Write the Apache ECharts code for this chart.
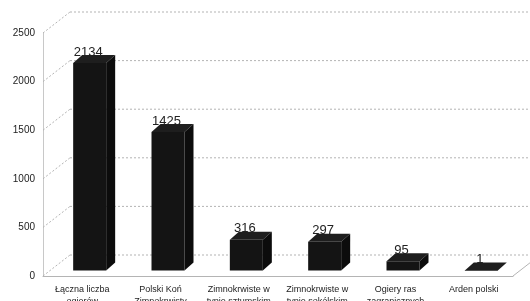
<!DOCTYPE html>
<html>
<head>
<meta charset="utf-8">
<script src="https://cdn.jsdelivr.net/npm/echarts@6/dist/echarts.min.js"></script>
<style>
html,body{margin:0;padding:0;background:#fff;}
#chart{width:530px;height:301px;}
</style>
</head>
<body>
<div id="chart"></div>
<script>
var categories = ['Łączna liczba\nogierów', 'Polski Koń\nZimnokrwisty', 'Zimnokrwiste w\ntypie sztumskim',
    'Zimnokrwiste w\ntypie sokólskim', 'Ogiery ras\nzagranicznych', 'Arden polski'];
var values = [2134, 1425, 316, 297, 95, 1];
var yTicks = [0, 500, 1000, 1500, 2000, 2500];

// depth of the fake 3d box (px)
var WALL_DX = 27, WALL_DY = -21;
var BAR_W = 33, BAR_OX = 7.5, BAR_OY = -5.5, BAR_DX = 9, BAR_DY = -8;

var chart = echarts.init(document.getElementById('chart'));

function renderWall(params, api) {
    var cs = params.coordSys;
    var p = api.coord([0, api.value(1)]);
    var y = p[1];
    var style = {stroke: '#b4b4b4', lineWidth: 1, lineDash: [2, 2]};
    var children = [
        {type: 'line', shape: {x1: cs.x, y1: y, x2: cs.x + WALL_DX, y2: y + WALL_DY}, style: style},
        {type: 'line', shape: {x1: cs.x + WALL_DX, y1: y + WALL_DY, x2: cs.x + cs.width + WALL_DX, y2: y + WALL_DY}, style: style}
    ];
    if (api.value(1) === 0) {
        children.push({type: 'line', shape: {x1: cs.x + cs.width, y1: y, x2: cs.x + cs.width + WALL_DX, y2: y + WALL_DY},
            style: {stroke: '#b4b4b4', lineWidth: 1}});
    }
    return {type: 'group', children: children};
}

function renderBar(params, api) {
    var i = api.value(0), v = api.value(1);
    var base = api.coord([i, 0]);
    var top = api.coord([i, v]);
    var x0 = base[0] - BAR_W / 2 + BAR_OX, x1 = x0 + BAR_W;
    var yb = base[1] + BAR_OY, yt = top[1] + BAR_OY;
    return {
        type: 'group',
        children: [
            {type: 'rect', shape: {x: x0, y: yt, width: BAR_W, height: Math.max(yb - yt, 0.5)}, style: {fill: '#141414'}},
            {type: 'polygon', shape: {points: [[x0, yt], [x1, yt], [x1 + BAR_DX, yt + BAR_DY], [x0 + BAR_DX, yt + BAR_DY]]},
                style: {fill: '#1e1e1e'}},
            {type: 'polygon', shape: {points: [[x1, yt], [x1 + BAR_DX, yt + BAR_DY], [x1 + BAR_DX, yb + BAR_DY], [x1, yb]]},
                style: {fill: '#0c0c0c'}},
            {type: 'text', x: x0 + 15, y: yt - 11,
                style: {text: String(v), fill: '#222', font: '13px Arial, "Liberation Sans"', align: 'center', verticalAlign: 'middle'}}
        ]
    };
}

chart.setOption({
    animation: false,
    backgroundColor: '#fff',
    grid: {left: 43, right: 17, top: 33, bottom: 25, containLabel: false, outerBoundsMode: 'none'},
    xAxis: {
        type: 'category',
        data: categories,
        axisLine: {lineStyle: {color: '#b4b4b4'}},
        axisTick: {show: false},
        axisLabel: {interval: 0, margin: 8, color: '#222', fontSize: 9, lineHeight: 12, fontFamily: 'Arial'}
    },
    yAxis: {
        type: 'value',
        min: 0, max: 2500, interval: 500,
        axisLine: {show: true, lineStyle: {color: '#c8c8c8'}},
        axisTick: {show: false},
        splitLine: {show: false},
        axisLabel: {margin: 8, color: '#222', fontSize: 10, fontFamily: 'Arial', formatter: function (v) { return String(v); }}
    },
    series: [
        {type: 'custom', renderItem: renderWall, data: yTicks.map(function (t) { return [0, t]; }), z: 1, silent: true},
        {type: 'custom', renderItem: renderBar, data: values.map(function (v, i) { return [i, v]; }), z: 2}
    ]
});
</script>
</body>
</html>
